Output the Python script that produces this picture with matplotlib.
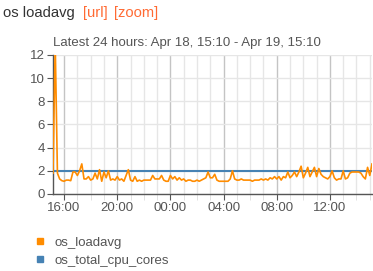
import matplotlib
matplotlib.use("Agg")
import matplotlib.pyplot as plt
import matplotlib.dates as mdates
from matplotlib.lines import Line2D
import datetime as dt

plt.rcParams['font.family'] = ['Liberation Sans', 'DejaVu Sans']

start = dt.datetime(2024, 4, 18, 15, 10)
step_minutes = 10
loadavg = [
    1.8, 13.0, 1.8, 1.3, 1.15, 1.1, 1.2, 1.2, 1.15, 1.9,
    1.9, 1.6, 2.0, 2.6, 1.3, 1.3, 1.5, 1.2, 1.3, 1.8,
    1.3, 2.1, 1.1, 1.9, 1.4, 2.0, 1.2, 1.3, 1.2, 1.5,
    1.2, 1.3, 1.1, 1.6, 2.1, 1.2, 1.1, 1.5, 1.1, 1.2,
    1.1, 1.2, 1.2, 1.2, 1.2, 1.6, 1.3, 1.3, 1.3, 1.6,
    1.2, 1.1, 1.1, 1.6, 1.3, 1.5, 1.2, 1.4, 1.2, 1.3,
    1.1, 1.2, 1.2, 1.1, 1.1, 1.2, 1.1, 1.2, 1.3, 1.4,
    1.9, 1.4, 1.4, 1.7, 1.2, 1.1, 1.1, 1.1, 1.1, 1.1,
    1.3, 2.0, 1.3, 1.2, 1.2, 1.3, 1.2, 1.2, 1.2, 1.2,
    1.1, 1.2, 1.2, 1.2, 1.3, 1.2, 1.3, 1.2, 1.4, 1.3,
    1.5, 1.3, 1.5, 1.2, 1.5, 1.4, 1.9, 1.4, 1.6, 1.9,
    1.5, 1.9, 2.4, 1.4, 1.8, 2.3, 1.5, 1.9, 2.3, 1.5,
    2.2, 1.7, 1.5, 1.4, 1.3, 1.5, 2.0, 1.4, 1.2, 1.3,
    1.3, 2.0, 1.3, 1.4, 1.8, 1.9, 1.9, 1.9, 1.9, 1.8,
    1.5, 1.3, 2.3, 1.6, 2.6,
]
cpu_cores = [2] * len(loadavg)
times = [start + dt.timedelta(minutes=step_minutes * i) for i in range(len(loadavg))]

series_names = ["os_loadavg", "os_total_cpu_cores"]
colors = ["#ff8c00", "#4682b4"]
y_ticks = [0, 2, 4, 6, 8, 10, 12]

W, H = 373, 271
fig = plt.figure(figsize=(W / 100, H / 100), dpi=100)
ax = fig.add_axes([53 / W, (H - 194) / H, (372 - 53) / W, (194 - 55) / H])

ax.plot(times, cpu_cores, color=colors[1], lw=1.5, zorder=3)
ax.plot(times, loadavg, color=colors[0], lw=1.2, zorder=4)

ax.set_xlim(times[0], times[-1])
ax.set_ylim(0, 12)
ax.set_yticks(y_ticks)
ax.xaxis.set_major_locator(mdates.HourLocator(byhour=range(0, 24, 4)))
ax.xaxis.set_minor_locator(mdates.HourLocator())
ax.xaxis.set_major_formatter(mdates.DateFormatter("%H:%M"))

ax.grid(which='major', axis='x', color='#c4c4c4', lw=1.0, zorder=0)
ax.grid(which='minor', axis='x', color='#e6e6e6', lw=1.0, zorder=0)
ax.grid(which='major', axis='y', color='#e6e6e6', lw=1.0, zorder=0)
ax.set_axisbelow(True)

for s in ['top', 'right']:
    ax.spines[s].set_visible(False)
for s in ['left', 'bottom']:
    ax.spines[s].set_color('#555555')
    ax.spines[s].set_linewidth(1.0)

ax.tick_params(axis='both', which='major', direction='out', length=4, color='#555555',
               labelsize=9.5, labelcolor='#555555', pad=2)
ax.tick_params(axis='x', which='minor', direction='out', length=4, color='#dddddd')

fig.text(3 / W, 1 - 13 / H, "os loadavg", fontsize=10.6, color='#333333', va='center', ha='left')
fig.text(83 / W, 1 - 13 / H, "[url]", fontsize=10.6, color='#ff6a33', va='center', ha='left')
fig.text(114 / W, 1 - 13 / H, "[zoom]", fontsize=10.6, color='#ff6a33', va='center', ha='left')

fig.text(187 / W, 1 - 43 / H, "Latest 24 hours: Apr 18, 15:10 - Apr 19, 15:10",
         fontsize=9.5, color='#555555', ha='center', va='center')

handles = [Line2D([], [], marker='s', ls='none', color=c, markersize=4) for c in colors]
fig.legend(handles, series_names, loc='upper left', bbox_to_anchor=(28 / W, 1 - 231 / H),
           frameon=False, fontsize=9.5, labelcolor='#555555', handletextpad=0.6,
           labelspacing=0.45, handlelength=1.0, borderaxespad=0)

fig.savefig("out.png", dpi=100)
